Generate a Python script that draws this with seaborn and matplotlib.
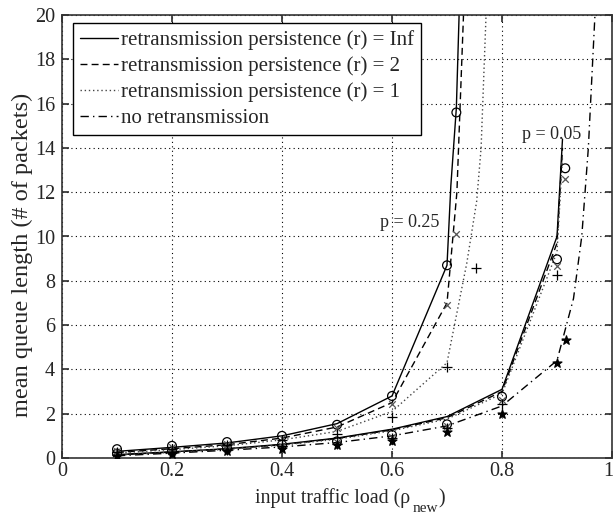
import numpy as np
import pandas as pd
import matplotlib
matplotlib.use("Agg")
import matplotlib.pyplot as plt
from matplotlib.lines import Line2D
from matplotlib.transforms import IdentityTransform, ScaledTranslation
import seaborn as sns

sns.set_theme(style="white")
plt.rcParams['font.family'] = ['Liberation Serif', 'DejaVu Serif']

# ---- theory curves ----
# p = 0.25
x_inf_25 = [0.1, 0.2, 0.3, 0.4, 0.5, 0.6, 0.7, 0.707, 0.717, 0.722, 0.725]
y_inf_25 = [0.3, 0.48, 0.68, 1.0, 1.55, 2.8, 8.7, 12.3, 15.8, 20.0, 24.0]
x_r2_25 = [0.1, 0.2, 0.3, 0.4, 0.5, 0.6, 0.7, 0.718, 0.73, 0.733]
y_r2_25 = [0.25, 0.42, 0.6, 0.9, 1.4, 2.5, 7.0, 12.0, 20.0, 24.0]
x_r1_25 = [0.1, 0.2, 0.3, 0.4, 0.5, 0.6, 0.7, 0.736, 0.754, 0.762, 0.771, 0.774]
y_r1_25 = [0.22, 0.38, 0.55, 0.82, 1.2, 2.1, 4.3, 8.8, 11.6, 14.0, 20.0, 24.0]
# p = 0.05
x_inf_05 = [0.1, 0.2, 0.3, 0.4, 0.5, 0.6, 0.7, 0.8, 0.9, 0.91]
y_inf_05 = [0.15, 0.28, 0.42, 0.62, 0.9, 1.3, 1.87, 3.1, 10.0, 14.4]
x_r2_05 = [0.1, 0.2, 0.3, 0.4, 0.5, 0.6, 0.7, 0.8, 0.9, 0.91]
y_r2_05 = [0.14, 0.27, 0.41, 0.6, 0.88, 1.27, 1.82, 3.0, 9.7, 14.0]
x_r1_05 = [0.1, 0.2, 0.3, 0.4, 0.5, 0.6, 0.7, 0.8, 0.9, 0.91]
y_r1_05 = [0.13, 0.26, 0.4, 0.58, 0.85, 1.23, 1.76, 2.9, 9.3, 13.6]
# no retransmission
x_none = [0.1, 0.2, 0.3, 0.4, 0.5, 0.6, 0.7, 0.8, 0.9, 0.93, 0.945, 0.957, 0.969, 0.975]
y_none = [0.1, 0.22, 0.35, 0.5, 0.7, 1.0, 1.45, 2.35, 4.4, 7.2, 10.0, 14.0, 20.0, 25.0]

# ---- simulation markers ----
sx_inf_25 = [0.1, 0.2, 0.3, 0.4, 0.5, 0.6, 0.7, 0.717]
sy_inf_25 = [0.4, 0.55, 0.72, 1.0, 1.5, 2.8, 8.7, 15.6]
sx_r2_25 = [0.1, 0.2, 0.3, 0.4, 0.5, 0.6, 0.7, 0.716]
sy_r2_25 = [0.33, 0.48, 0.65, 0.9, 1.35, 2.44, 6.9, 10.1]
sx_r1_25 = [0.1, 0.2, 0.3, 0.4, 0.5, 0.6, 0.7, 0.752]
sy_r1_25 = [0.28, 0.42, 0.58, 0.8, 1.1, 1.84, 4.1, 8.56]
sx_inf_05 = [0.1, 0.2, 0.3, 0.4, 0.5, 0.6, 0.7, 0.8, 0.9, 0.915]
sy_inf_05 = [0.2, 0.3, 0.45, 0.6, 0.75, 1.04, 1.52, 2.77, 8.97, 13.08]
sx_r2_05 = [0.1, 0.2, 0.3, 0.4, 0.5, 0.6, 0.7, 0.8, 0.9, 0.915]
sy_r2_05 = [0.18, 0.28, 0.42, 0.56, 0.7, 0.96, 1.45, 2.6, 8.67, 12.6]
sx_r1_05 = [0.1, 0.2, 0.3, 0.4, 0.5, 0.6, 0.7, 0.8, 0.9]
sy_r1_05 = [0.15, 0.26, 0.38, 0.52, 0.65, 0.9, 1.35, 2.45, 8.26]
sx_none = [0.1, 0.2, 0.3, 0.4, 0.5, 0.6, 0.7, 0.8, 0.9, 0.916]
sy_none = [0.08, 0.18, 0.3, 0.42, 0.59, 0.78, 1.19, 2.0, 4.3, 5.33]

x_ticks = [0, 0.2, 0.4, 0.6, 0.8, 1]
x_tick_labels = ["0", "0.2", "0.4", "0.6", "0.8", "1"]
y_ticks = [0, 2, 4, 6, 8, 10, 12, 14, 16, 18, 20]
legend_labels = ["retransmission persistence (r) = Inf",
                 "retransmission persistence (r) = 2",
                 "retransmission persistence (r) = 1",
                 "no retransmission"]

W, H = 613, 515
fig = plt.figure(figsize=(W / 100, H / 100), dpi=100)
ax = fig.add_axes([62 / W, 57 / H, 550 / W, 443 / H])

styles = {
    "inf": dict(color="black", linestyle="-", linewidth=1.0),
    "r2": dict(color="black", linestyle=(0, (5, 3)), linewidth=1.0),
    "r1": dict(color="#444444", linestyle=(0, (1, 2)), linewidth=1.0),
    "none": dict(color="black", linestyle=(0, (6, 3, 1, 3)), linewidth=1.0),
}

def line(xs, ys, key):
    df = pd.DataFrame({"x": xs, "y": ys})
    sns.lineplot(data=df, x="x", y="y", ax=ax, estimator=None, sort=False, **styles[key])

line(x_inf_25, y_inf_25, "inf")
line(x_r2_25, y_r2_25, "r2")
line(x_r1_25, y_r1_25, "r1")
line(x_inf_05, y_inf_05, "inf")
line(x_r2_05, y_r2_05, "r2")
line(x_r1_05, y_r1_05, "r1")
line(x_none, y_none, "none")

def marks(xs, ys, marker, color="black", size=40, lw=0.9, face="none"):
    df = pd.DataFrame({"x": xs, "y": ys})
    sns.scatterplot(data=df, x="x", y="y", ax=ax, marker=marker, s=size,
                    facecolors=face, edgecolors=color, color=color, linewidths=lw, zorder=5)

marks(sx_inf_25, sy_inf_25, "o", size=40)
marks(sx_inf_05, sy_inf_05, "o", size=40)
marks(sx_r2_25, sy_r2_25, "x", color="#555555", size=22, face=None)
marks(sx_r2_05, sy_r2_05, "x", color="#555555", size=22, face=None)
marks(sx_r1_25, sy_r1_25, "+", color="black", size=50, face=None)
marks(sx_r1_05, sy_r1_05, "+", color="black", size=50, face=None)
marks(sx_none, sy_none, "*", color="black", size=45, face="black")

ax.set_xlim(0, 1)
ax.set_ylim(0, 20)
ax.set_xticks(x_ticks)
ax.set_xticklabels(x_tick_labels)
ax.set_yticks(y_ticks)
ax.tick_params(axis="both", direction="in", length=5, labelsize=14.5, pad=5,
               top=True, right=True, bottom=True, left=True, color="#333333")
ax.tick_params(axis="x", pad=3)
ax.grid(True, color="black", linestyle=(0, (1, 3)), linewidth=0.8)
for s in ax.spines.values():
    s.set_visible(True)
    s.set_color("#333333")
    s.set_linewidth(1.2)

# nudge the last x tick label ("1") slightly left so it stays inside the image
last_lbl = ax.get_xticklabels()[-1]
last_lbl.set_transform(last_lbl.get_transform() + ScaledTranslation(-4 / 100, 0, fig.dpi_scale_trans))

ax.set_xlabel("")
ax.set_ylabel("mean queue length (# of packets)", fontsize=17.5)
ax.yaxis.set_label_coords(-0.052, 0.458)

ax.text(0.578, 10.65, "p = 0.25", fontsize=13, va="center", ha="left")
ax.text(0.836, 14.6, "p = 0.05", fontsize=13, va="center", ha="left")

handles = [Line2D([], [], **styles[k]) for k in ["inf", "r2", "r1", "none"]]
leg = ax.legend(handles, legend_labels, loc="upper left", fontsize=15,
                frameon=True, fancybox=False, framealpha=1, edgecolor="black",
                handlelength=1.8, handletextpad=0.15, borderpad=0.35,
                labelspacing=0.3, bbox_to_anchor=(11 / 550, 1 - 8 / 443),
                borderaxespad=0)
leg.get_frame().set_linewidth(1.0)

# x label composed of pieces (large subscript as in reference)
idt = IdentityTransform()
fig.canvas.draw()
r = fig.canvas.get_renderer()
t1 = fig.text(255, H - 503, "input traffic load (\u03c1", fontsize=14.3,
              transform=idt, ha="left", va="baseline")
bb1 = t1.get_window_extent(r)
t2 = fig.text(bb1.x1 + 2, H - 512, "new", fontsize=11,
              transform=idt, ha="left", va="baseline")
bb2 = t2.get_window_extent(r)
fig.text(bb2.x1 + 1, H - 503, ")", fontsize=14.3, transform=idt, ha="left", va="baseline")

fig.savefig("out.png", dpi=100, facecolor="white")
